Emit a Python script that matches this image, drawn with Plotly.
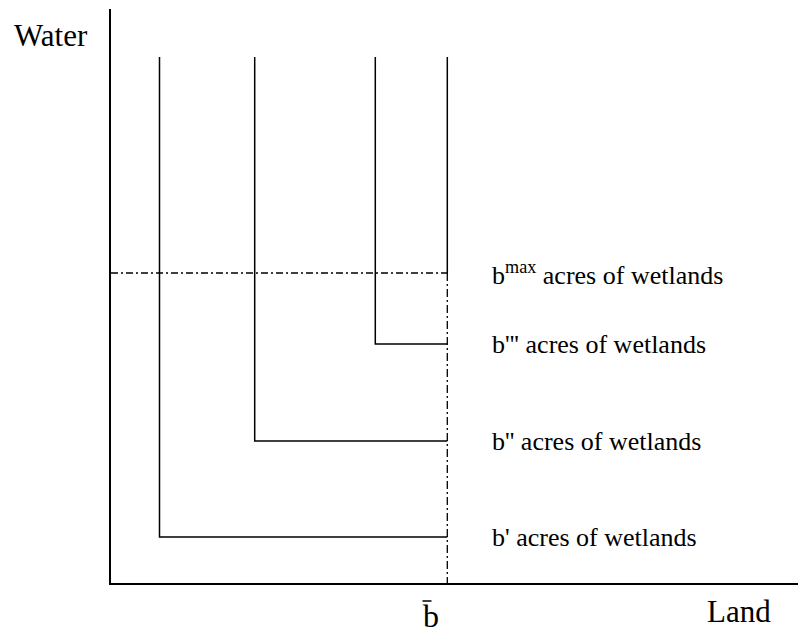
import plotly.graph_objects as go

# positions along the land axis (b', b'', b''') and the bar b
land_starts = [48.5, 143.7, 264.3]
b_bar = 336.3
# water level where each wetland curve turns, and the b max level
wetland_levels = [46, 142, 239]
b_max = 310
water_top = 526

label_texts = [
    "b' acres of wetlands",
    "b'' acres of wetlands",
    "b''' acres of wetlands",
]
max_label = "b<sup>max</sup> acres of wetlands"

FONT = "Liberation Serif"
BLACK = "black"

fig = go.Figure()

for x0, lvl in zip(land_starts, wetland_levels):
    fig.add_trace(go.Scatter(
        x=[x0, x0, b_bar],
        y=[water_top, lvl, lvl],
        mode="lines",
        line=dict(color=BLACK, width=1.5),
        hoverinfo="skip",
    ))

# vertical at b bar above the max level
fig.add_trace(go.Scatter(
    x=[b_bar, b_bar],
    y=[water_top, b_max],
    mode="lines",
    line=dict(color=BLACK, width=1.5),
    hoverinfo="skip",
))
# dash-dot max line
fig.add_trace(go.Scatter(
    x=[0, b_bar],
    y=[b_max, b_max],
    mode="lines",
    line=dict(color=BLACK, width=1.3, dash="7px,3px,2px,3px"),
    hoverinfo="skip",
))
# dashed vertical at b bar down to the axis
fig.add_trace(go.Scatter(
    x=[b_bar, b_bar],
    y=[b_max, 0],
    mode="lines",
    line=dict(color=BLACK, width=1.3, dash="8px,3px,2px,3px"),
    hoverinfo="skip",
))

annotations = []
for txt, lvl in zip(label_texts, wetland_levels):
    annotations.append(dict(
        x=b_bar + 43, y=lvl, xref="x", yref="y",
        text=txt, showarrow=False, xanchor="left", yanchor="middle",
        font=dict(family=FONT, size=26, color=BLACK),
    ))
annotations.append(dict(
    x=b_bar + 43, y=b_max, xref="x", yref="y",
    text=max_label, showarrow=False, xanchor="left", yanchor="middle",
    font=dict(family=FONT, size=26, color=BLACK),
))
annotations += [
    dict(x=-0.088, y=0.954, xref="paper", yref="paper", text="Water",
         showarrow=False, xanchor="center", yanchor="middle",
         font=dict(family=FONT, size=31, color=BLACK)),
    dict(x=0.914, y=-0.0497, xref="paper", yref="paper", text="Land",
         showarrow=False, xanchor="center", yanchor="middle",
         font=dict(family=FONT, size=31, color=BLACK)),
    dict(x=0.466, y=-0.058, xref="paper", yref="paper", text="b",
         showarrow=False, xanchor="center", yanchor="middle",
         font=dict(family=FONT, size=32, color=BLACK)),
]

fig.update_layout(
    width=798,
    height=633,
    margin=dict(l=111, r=0, t=9, b=50),
    paper_bgcolor="white",
    plot_bgcolor="white",
    showlegend=False,
    annotations=annotations,
    shapes=[
        # bar over the b
        dict(type="line", xref="paper", yref="paper",
             x0=(422.5 - 111) / 687, x1=(431.5 - 111) / 687,
             y0=(583 - 601) / 574, y1=(583 - 601) / 574,
             line=dict(color=BLACK, width=1.5)),
    ],
)
fig.update_xaxes(range=[0, 687], showline=True, linewidth=2, linecolor=BLACK,
                 showgrid=False, zeroline=False, showticklabels=False, ticks="")
fig.update_yaxes(range=[0, 574], showline=True, linewidth=2, linecolor=BLACK,
                 showgrid=False, zeroline=False, showticklabels=False, ticks="")

fig.write_html(
    "out.html",
    config={"displayModeBar": False},
    post_script="document.body.style.margin='0';document.body.style.overflow='hidden';",
)
